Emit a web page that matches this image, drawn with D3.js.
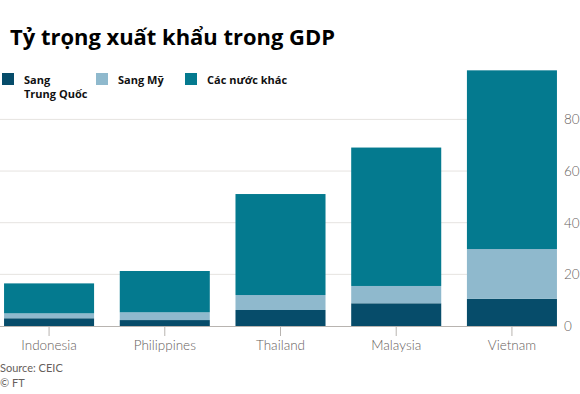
<!DOCTYPE html>
<html><head><meta charset="utf-8">
<script src="https://cdn.jsdelivr.net/npm/d3@7"></script>
<style>body{margin:0;background:#fff}svg{display:block}</style>
</head><body>
<script>
const categories = ["Indonesia","Philippines","Thailand","Malaysia","Vietnam"];
const seriesNames = ["Sang Trung Quốc","Sang Mỹ","Các nước khác"];
const toChina = [3.0, 2.3, 6.2, 8.8, 10.5];
const toUS = [1.9, 3.0, 5.8, 6.7, 19.3];
const toOthers = [11.6, 16.0, 39.1, 53.6, 69.2];
const yTicks = [0, 20, 40, 60, 80];
const colors = ["#064c6a", "#8fb9cd", "#047a8f"];

const W = 580, H = 394;
const svg = d3.select("body").append("svg").attr("width", W).attr("height", H);

const x = d3.scaleBand().domain(categories).range([0, 561]).paddingInner(0.222).paddingOuter(0.035);
const y = d3.scaleLinear().domain([0, 80]).range([326, 119.4]);

// gridlines
svg.append("g").selectAll("line").data(yTicks.filter(d => d > 0)).join("line")
  .attr("x1", 0).attr("x2", 557).attr("y1", d => y(d)).attr("y2", d => y(d))
  .attr("stroke", "#e6e3e0").attr("stroke-width", 1);

// stacked data
const rows = categories.map((c, i) => ({cat: c, a: toChina[i], b: toUS[i], c: toOthers[i]}));
const stack = d3.stack().keys(["a","b","c"])(rows);
svg.append("g").selectAll("g").data(stack).join("g")
  .attr("fill", (d, i) => colors[i])
  .selectAll("rect").data(d => d).join("rect")
  .attr("x", d => x(d.data.cat)).attr("width", x.bandwidth())
  .attr("y", d => y(d[1])).attr("height", d => y(d[0]) - y(d[1]));

// baseline
svg.append("line").attr("x1", 0).attr("x2", 557).attr("y1", y(0) + 0.5).attr("y2", y(0) + 0.5)
  .attr("stroke", "#b8b4b0").attr("stroke-width", 1);

// x axis
const xAxis = svg.append("g").attr("transform", `translate(0,${y(0)})`)
  .call(d3.axisBottom(x).tickSize(10).tickSizeOuter(0).tickPadding(4));
xAxis.select(".domain").remove();
xAxis.selectAll(".tick line").attr("stroke", "#b8b4b0");
xAxis.selectAll(".tick text").attr("fill", "#66605c").attr("font-family", "Lato, sans-serif")
  .attr("font-weight", 300).attr("font-size", 13.5);

// y axis (right)
const yAxis = svg.append("g").attr("transform", `translate(557,0)`)
  .call(d3.axisRight(y).tickValues(yTicks).tickSize(0).tickPadding(7));
yAxis.select(".domain").remove();
yAxis.selectAll(".tick text").attr("fill", "#66605c").attr("font-family", "Lato, sans-serif")
  .attr("font-weight", 300).attr("font-size", 13.5);

// title
svg.append("text").attr("x", 10).attr("y", 45).text("Tỷ trọng xuất khẩu trong GDP")
  .attr("font-family", "'Open Sans', sans-serif").attr("font-weight", 700).attr("font-size", 21.5)
  .attr("textLength", 325).attr("lengthAdjust", "spacingAndGlyphs").attr("fill", "#000");

// legend
const legend = [
  {x: 2, lines: ["Sang", "Trung Quốc"]},
  {x: 96, lines: ["Sang Mỹ"]},
  {x: 185, lines: ["Các nước khác"]}
];
const lg = svg.append("g").selectAll("g").data(legend).join("g");
lg.append("rect").attr("x", d => d.x).attr("y", 73).attr("width", 12).attr("height", 12)
  .attr("fill", (d, i) => colors[i]);
lg.append("text").attr("font-family", "'Open Sans', sans-serif").attr("font-weight", 700)
  .attr("font-size", 11).attr("fill", "#111")
  .selectAll("tspan").data(d => d.lines.map(l => ({l, x: d.x}))).join("tspan")
  .attr("x", d => d.x + 22).attr("y", (d, i) => 84 + i * 14).text(d => d.l);

// source
svg.append("text").attr("x", 0).attr("y", 372).text("Source: CEIC")
  .attr("font-family", "Lato, sans-serif").attr("font-size", 11).attr("fill", "#66605c");
svg.append("text").attr("x", 0).attr("y", 387).text("© FT")
  .attr("font-family", "Lato, sans-serif").attr("font-size", 11).attr("fill", "#66605c");
</script>
</body></html>
